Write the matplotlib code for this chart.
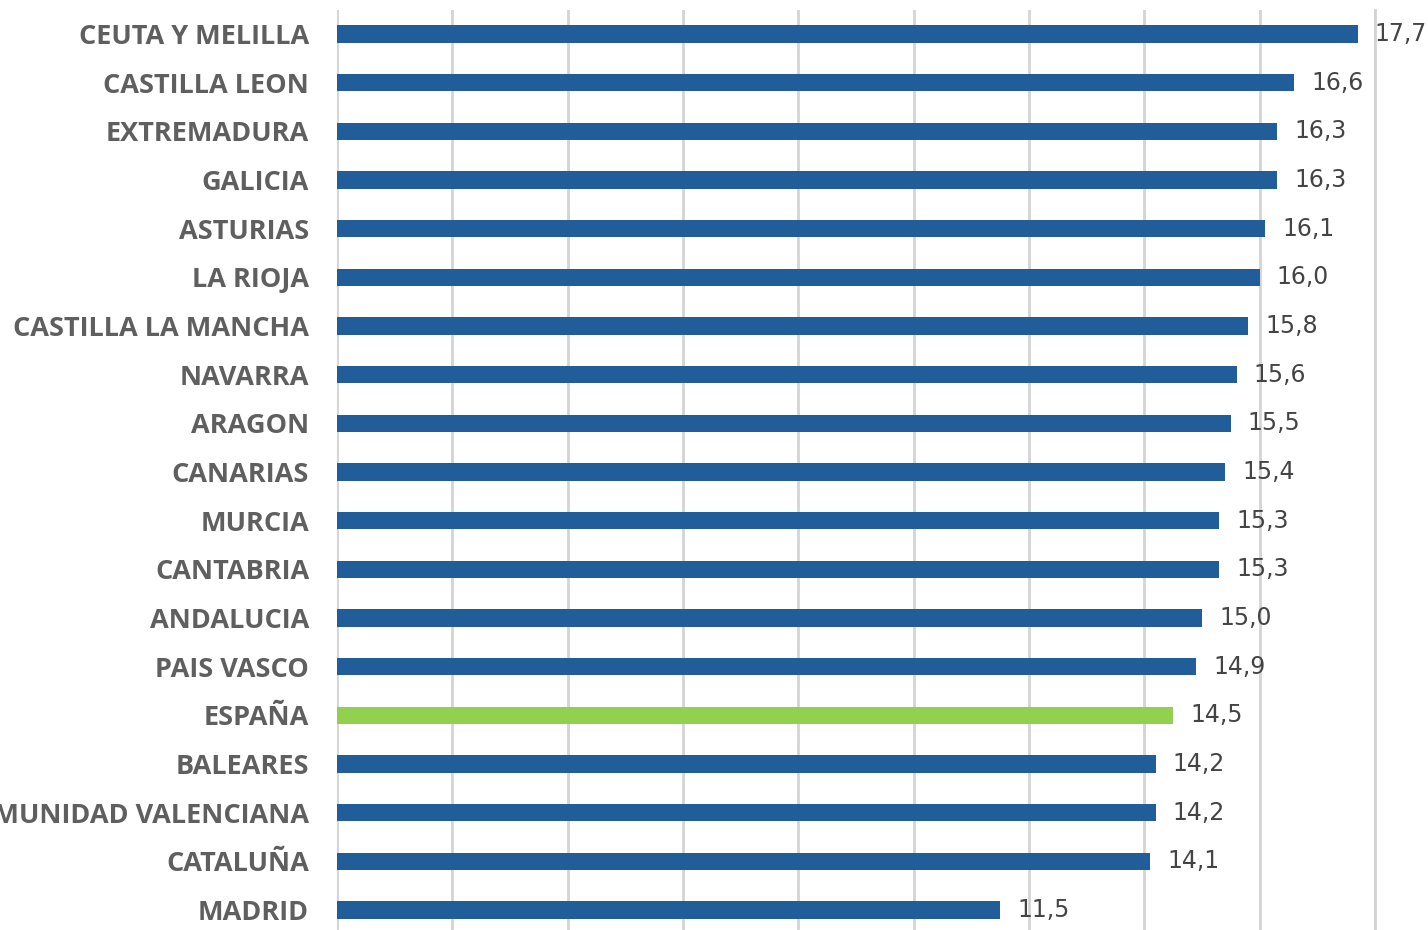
import matplotlib
matplotlib.use("Agg")
import matplotlib.pyplot as plt

regions = [
    "CEUTA Y MELILLA", "CASTILLA LEON", "EXTREMADURA", "GALICIA", "ASTURIAS",
    "LA RIOJA", "CASTILLA LA MANCHA", "NAVARRA", "ARAGON", "CANARIAS",
    "MURCIA", "CANTABRIA", "ANDALUCIA", "PAIS VASCO", "ESPAÑA",
    "BALEARES", "COMUNIDAD VALENCIANA", "CATALUÑA", "MADRID",
]
values = [17.7, 16.6, 16.3, 16.3, 16.1, 16.0, 15.8, 15.6, 15.5, 15.4,
          15.3, 15.3, 15.0, 14.9, 14.5, 14.2, 14.2, 14.1, 11.5]
highlight = "ESPAÑA"

BLUE = "#215E99"
GREEN = "#92D050"
GRID = "#D4D4D4"

W, H = 1428, 930
fig = plt.figure(figsize=(W / 100, H / 100), dpi=100)
ax = fig.add_axes([337 / W, 0, (1375 - 337) / W, 1 - 10 / H])

pos = list(range(len(regions)))
colors = [GREEN if r == highlight else BLUE for r in regions]
ax.barh(pos, values, height=0.35, color=colors, zorder=3)

ax.set_xlim(0, 18)
ax.set_ylim(18 + 20 / 48.67, -24 / 48.67)
ax.set_xticks(range(0, 19, 2))
ax.xaxis.grid(True, color=GRID, linewidth=2)
ax.tick_params(axis="x", length=0, labelbottom=False)
for s in ax.spines.values():
    s.set_visible(False)
ax.axvline(18, color=GRID, linewidth=2, clip_on=False, zorder=1)

ax.set_yticks(pos)
ax.set_yticklabels(regions, fontsize=19.5, fontweight="bold", color="#5F5F5F",
                   family="Open Sans")
ax.tick_params(axis="y", length=0, pad=20)

for p, v in zip(pos, values):
    ax.annotate(f"{v:.1f}".replace(".", ","), (v, p), xytext=(17, 0),
                textcoords="offset pixels", va="center", ha="left",
                fontsize=17, color="#444444", family="DejaVu Sans",
                zorder=4, annotation_clip=False)

fig.savefig("out.png", dpi=100)
